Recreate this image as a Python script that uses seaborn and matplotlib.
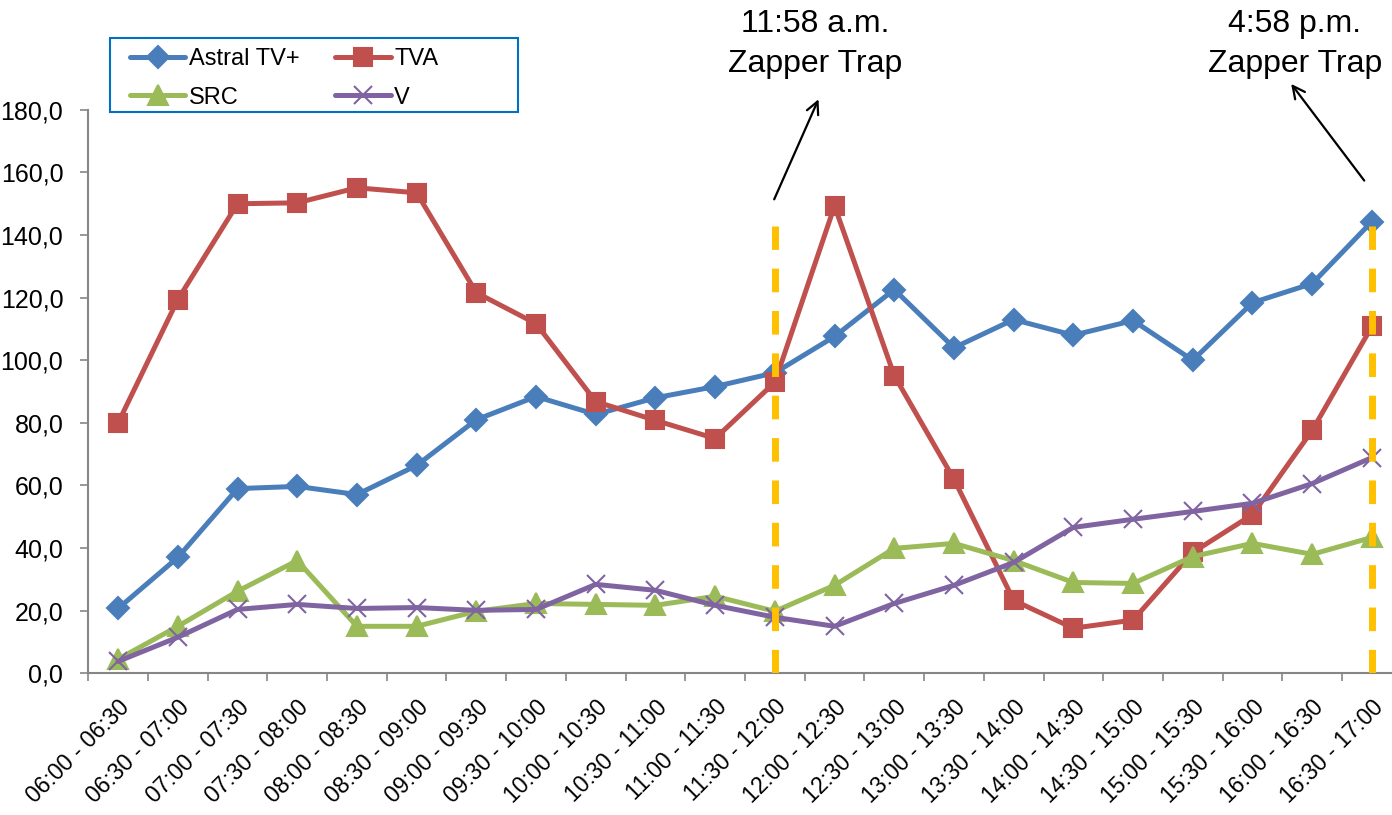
import matplotlib
matplotlib.use("Agg")
import matplotlib.pyplot as plt
import seaborn as sns
import pandas as pd
from matplotlib.patches import Rectangle
from matplotlib.ticker import FuncFormatter, FixedLocator

sns.set_theme(style='white')
plt.rcParams['font.family'] = ['Liberation Sans', 'DejaVu Sans']
plt.rcParams['text.color'] = 'black'
plt.rcParams['xtick.labelcolor'] = 'black'
plt.rcParams['ytick.labelcolor'] = 'black'

# time slots (x categories)
slots = ['06:00 - 06:30', '06:30 - 07:00', '07:00 - 07:30', '07:30 - 08:00',
         '08:00 - 08:30', '08:30 - 09:00', '09:00 - 09:30', '09:30 - 10:00',
         '10:00 - 10:30', '10:30 - 11:00', '11:00 - 11:30', '11:30 - 12:00',
         '12:00 - 12:30', '12:30 - 13:00', '13:00 - 13:30', '13:30 - 14:00',
         '14:00 - 14:30', '14:30 - 15:00', '15:00 - 15:30', '15:30 - 16:00',
         '16:00 - 16:30', '16:30 - 17:00']

astral = [20.7, 37.0, 59.0, 59.7, 57.1, 66.4, 81.0, 88.4, 82.7, 88.0, 91.6,
          96.0, 107.6, 122.6, 104.0, 113.0, 108.0, 112.7, 100.0, 118.4, 124.5, 144.3]
tva = [80.0, 119.4, 150.0, 150.3, 155.1, 153.5, 121.6, 111.7, 86.8, 80.8, 75.0,
       93.0, 149.3, 95.1, 62.0, 23.3, 14.4, 17.0, 38.6, 50.7, 77.6, 110.8]
src = [4.5, 15.0, 26.2, 36.0, 15.0, 15.0, 19.8, 22.3, 22.0, 21.7, 24.6,
       19.8, 28.1, 39.9, 41.5, 36.0, 29.0, 28.7, 37.3, 41.5, 38.0, 43.4]
v = [3.8, 11.5, 20.4, 22.0, 20.7, 21.0, 20.1, 20.4, 28.4, 26.5, 21.7,
     17.9, 15.0, 22.3, 28.1, 35.4, 46.6, 49.2, 51.7, 54.3, 60.6, 68.9]

# zapper trap moments: slot index, label
trap_slots = [11, 21]
trap_labels = ['11:58 a.m.\nZapper Trap', '4:58 p.m.\nZapper Trap']

series = [
    ('Astral TV+', astral, '#4A7EBB', 'D', 11),
    ('TVA', tva, '#C0504D', 's', 13),
    ('SRC', src, '#9BBB59', '^', 14),
    ('V', v, '#8064A2', 'x', 13),
]

fig = plt.figure(figsize=(13.92, 8.15), dpi=100)
ax = fig.add_axes([0.0634, 0.1739, 0.9436, 0.6913])

handles = {}
for name, vals, color, marker, ms in series:
    df = pd.DataFrame({'x': range(len(slots)), 'y': vals})
    sns.lineplot(data=df, x='x', y='y', ax=ax, color=color, lw=3.6,
                 marker=marker, markersize=ms, markeredgecolor=color,
                 markeredgewidth=1.5, label=name, zorder=3)
    handles[name] = ax.lines[-1]

# dashed trap markers
ax.vlines(trap_slots, 0, 143, colors='#FFC000', lw=5,
          linestyles=(0, (3.4, 2.7)), zorder=5)

ax.set_xlim(-0.5, len(slots) - 0.5)
ax.set_ylim(0, 180)
ax.set_xlabel('')
ax.set_ylabel('')

ax.set_xticks(range(len(slots)))
ax.set_xticklabels(slots, rotation=45, ha='right', rotation_mode='anchor',
                   fontsize=16.5)
ax.xaxis.set_minor_locator(FixedLocator([i - 0.5 for i in range(len(slots) + 1)]))
ax.tick_params(axis='x', which='major', length=0, pad=16)
ax.tick_params(axis='x', which='minor', length=6, width=1.2, color='#868686',
               direction='out', bottom=True)
ax.set_yticks(range(0, 181, 20))
ax.yaxis.set_major_formatter(FuncFormatter(lambda y, _: f'{y:.1f}'.replace('.', ',')))
ax.tick_params(axis='y', length=6, width=1.2, color='#868686', direction='out',
               left=True, labelsize=18, pad=12)

for side in ['top', 'right']:
    ax.spines[side].set_visible(False)
for side in ['left', 'bottom']:
    ax.spines[side].set_color('#868686')
    ax.spines[side].set_linewidth(1.5)

# arrows + texts
ax.annotate('', xy=(11.75, 184.2), xytext=(10.97, 150.6),
            arrowprops=dict(arrowstyle='->', color='black', lw=1.6,
                            mutation_scale=22), annotation_clip=False)
ax.annotate('', xy=(19.62, 189.0), xytext=(20.9, 156.7),
            arrowprops=dict(arrowstyle='->', color='black', lw=1.6,
                            mutation_scale=22), annotation_clip=False)
ax.text(11.67, 201, trap_labels[0], ha='center', va='center', fontsize=23,
        linespacing=1.45, clip_on=False)
ax.text(19.71, 201, trap_labels[1], ha='center', va='center', fontsize=23,
        linespacing=1.45, clip_on=False)

order = ['Astral TV+', 'SRC', 'TVA', 'V']
leg = ax.legend([handles[n] for n in order], order, ncol=2, fontsize=17,
                loc='upper left', bbox_to_anchor=(0.0934, 0.9410),
                bbox_transform=fig.transFigure, borderaxespad=0, borderpad=0,
                frameon=False, handlelength=2.35, handletextpad=0.15,
                labelspacing=0.7, columnspacing=1.5)
# legend border box
fig.patches.append(Rectangle((110 / 1392, 1 - 112 / 815), 408 / 1392, 74 / 815,
                             transform=fig.transFigure, fill=False,
                             edgecolor='#0070C0', lw=1.5))

fig.savefig('out.png', dpi=100)
